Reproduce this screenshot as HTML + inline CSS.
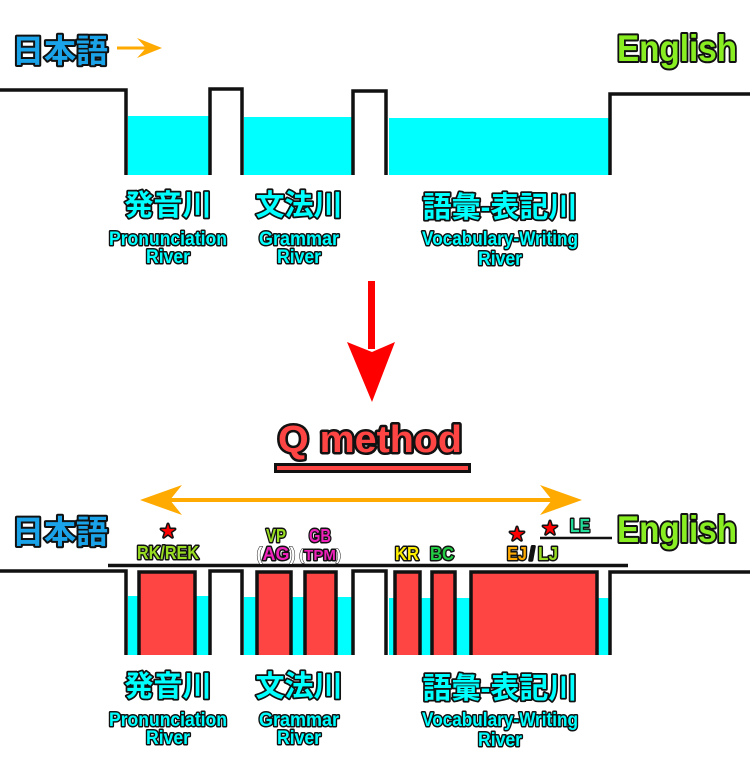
<!DOCTYPE html>
<html><head><meta charset="utf-8"><style>
html,body{margin:0;padding:0;background:#fff;width:750px;height:770px;overflow:hidden}
svg{display:block}
text{font-family:"Liberation Sans","Noto Sans CJK JP",sans-serif;font-weight:bold;paint-order:stroke;stroke:#111;stroke-linejoin:round}
</style></head><body>
<svg width="750" height="770" viewBox="0 0 750 770" xmlns="http://www.w3.org/2000/svg">
<!-- TOP -->
<rect x="128" y="116" width="81" height="59" fill="#00ffff"/>
<rect x="244" y="117" width="108" height="58" fill="#00ffff"/>
<rect x="389" y="118" width="220" height="57" fill="#00ffff"/>
<polyline points="0,90 126,90 126,175" fill="none" stroke="#111" stroke-width="3.5"/>
<polyline points="210,175 210,89 242,89 242,175" fill="none" stroke="#111" stroke-width="3.5"/>
<polyline points="353,175 353,91 386,91 386,175" fill="none" stroke="#111" stroke-width="3.5"/>
<polyline points="610,175 610,94 750,94" fill="none" stroke="#111" stroke-width="3.5"/>

<text x="60" y="62" font-size="32" fill="#1aa3e8" stroke-width="4" text-anchor="middle" font-family="Noto Sans CJK JP" font-weight="900">日本語</text>
<line x1="117" y1="48" x2="148" y2="48" stroke="#ffaa00" stroke-width="3"/>
<polygon points="137,38 162,48 137,58 146,48" fill="#ffaa00"/>
<text x="677" y="61" font-size="37" fill="#88ee22" stroke-width="4" text-anchor="middle" textLength="120" lengthAdjust="spacingAndGlyphs">English</text>

<g text-anchor="middle" fill="#00ffff">
<text x="168" y="215" font-size="29" stroke-width="3.5" font-family="Noto Sans CJK JP" font-weight="900">発音川</text>
<text x="168" y="245" font-size="19" stroke-width="3" textLength="118" lengthAdjust="spacingAndGlyphs">Pronunciation</text>
<text x="168" y="263" font-size="19" stroke-width="3" textLength="44" lengthAdjust="spacingAndGlyphs">River</text>
<text x="299" y="215" font-size="29" stroke-width="3.5" font-family="Noto Sans CJK JP" font-weight="900">文法川</text>
<text x="299" y="245" font-size="19" stroke-width="3" textLength="80" lengthAdjust="spacingAndGlyphs">Grammar</text>
<text x="299" y="263" font-size="19" stroke-width="3" textLength="44" lengthAdjust="spacingAndGlyphs">River</text>
<text x="500" y="217" font-size="29" stroke-width="3.5" font-family="Noto Sans CJK JP" font-weight="900">語彙-表記川</text>
<text x="500" y="245" font-size="19" stroke-width="3" textLength="156" lengthAdjust="spacingAndGlyphs">Vocabulary-Writing</text>
<text x="500" y="265" font-size="19" stroke-width="3" textLength="44" lengthAdjust="spacingAndGlyphs">River</text>
</g>

<!-- red arrow -->
<rect x="368" y="281" width="7" height="68" fill="#ff0000"/>
<polygon points="347,342 372,352 395,342 372,402" fill="#ff0000"/>

<text x="370" y="452" font-size="38" fill="#ff4444" stroke-width="5" text-anchor="middle" textLength="184" lengthAdjust="spacingAndGlyphs">Q method</text>
<rect x="275.5" y="464.5" width="194" height="7" fill="#ff4444" stroke="#111" stroke-width="3"/>

<!-- orange double arrow -->
<line x1="155" y1="500" x2="568" y2="500" stroke="#ffaa00" stroke-width="4"/>
<polygon points="140,500 182,485 170,500 182,515" fill="#ffaa00"/>
<polygon points="582,500 540,485 552,500 540,515" fill="#ffaa00"/>

<!-- BOTTOM -->
<rect x="128" y="596" width="81" height="59" fill="#00ffff"/>
<rect x="244" y="597" width="108" height="58" fill="#00ffff"/>
<rect x="389" y="598" width="220" height="57" fill="#00ffff"/>
<polyline points="0,571 126,571 126,655" fill="none" stroke="#111" stroke-width="3.5"/>
<polyline points="210,655 210,571 242,571 242,655" fill="none" stroke="#111" stroke-width="3.5"/>
<polyline points="353,655 353,571 386,571 386,655" fill="none" stroke="#111" stroke-width="3.5"/>
<polyline points="610,655 610,572 750,572" fill="none" stroke="#111" stroke-width="3.5"/>
<line x1="108" y1="565.5" x2="628" y2="565.5" stroke="#111" stroke-width="3.5"/>
<g fill="#ff4444" stroke="#111" stroke-width="3.5">
<polyline points="139,655 139,572 195,572 195,655"/>
<polyline points="257,655 257,572 291,572 291,655"/>
<polyline points="305,655 305,572 336,572 336,655"/>
<polyline points="395,655 395,572 420,572 420,655"/>
<polyline points="432,655 432,572 455,572 455,655"/>
<polyline points="471,655 471,572 597,572 597,655"/>
</g>

<text x="60" y="543" font-size="32" fill="#1aa3e8" stroke-width="4" text-anchor="middle" font-family="Noto Sans CJK JP" font-weight="900">日本語</text>
<text x="677" y="542" font-size="37" fill="#88ee22" stroke-width="4" text-anchor="middle" textLength="120" lengthAdjust="spacingAndGlyphs">English</text>
<line x1="540" y1="538" x2="612" y2="538" stroke="#111" stroke-width="2.5"/>

<g text-anchor="middle" font-size="18" stroke-width="3">
<text x="168" y="536" fill="#ff0000" stroke="none" font-size="15">★</text>
<text x="168" y="559" fill="#99dd22" textLength="62" lengthAdjust="spacingAndGlyphs">RK/REK</text>
<text x="276" y="542" fill="#99dd22" textLength="20" lengthAdjust="spacingAndGlyphs">VP</text>
<text x="320" y="542" fill="#ee22bb" textLength="22" lengthAdjust="spacingAndGlyphs">GB</text>
<text x="276" y="560" fill="#ee22bb"><tspan fill="#fff" stroke-width="1">(</tspan>AG<tspan fill="#fff" stroke-width="1">)</tspan></text>
<text x="320" y="560" fill="#ee22bb" font-size="15"><tspan fill="#fff" stroke-width="1">(</tspan>TPM<tspan fill="#fff" stroke-width="1">)</tspan></text>
<text x="407" y="560" fill="#ffee00" textLength="24" lengthAdjust="spacingAndGlyphs">KR</text>
<text x="442" y="560" fill="#22cc44" textLength="24" lengthAdjust="spacingAndGlyphs">BC</text>
<text x="517" y="539" fill="#ff0000" stroke="none" font-size="15">★</text>
<text x="517" y="560" fill="#ffaa00" textLength="20" lengthAdjust="spacingAndGlyphs">EJ</text>
<text x="532" y="560" fill="#111" stroke="none">/</text>
<text x="548" y="560" fill="#99dd22" textLength="20" lengthAdjust="spacingAndGlyphs">LJ</text>
<text x="550" y="533" fill="#ff0000" stroke="none" font-size="15">★</text>
<text x="580" y="532" fill="#22dd99" textLength="20" lengthAdjust="spacingAndGlyphs">LE</text>
</g>

<g text-anchor="middle" fill="#00ffff">
<text x="168" y="696" font-size="29" stroke-width="3.5" font-family="Noto Sans CJK JP" font-weight="900">発音川</text>
<text x="168" y="726" font-size="19" stroke-width="3" textLength="118" lengthAdjust="spacingAndGlyphs">Pronunciation</text>
<text x="168" y="744" font-size="19" stroke-width="3" textLength="44" lengthAdjust="spacingAndGlyphs">River</text>
<text x="299" y="696" font-size="29" stroke-width="3.5" font-family="Noto Sans CJK JP" font-weight="900">文法川</text>
<text x="299" y="726" font-size="19" stroke-width="3" textLength="80" lengthAdjust="spacingAndGlyphs">Grammar</text>
<text x="299" y="744" font-size="19" stroke-width="3" textLength="44" lengthAdjust="spacingAndGlyphs">River</text>
<text x="500" y="698" font-size="29" stroke-width="3.5" font-family="Noto Sans CJK JP" font-weight="900">語彙-表記川</text>
<text x="500" y="726" font-size="19" stroke-width="3" textLength="156" lengthAdjust="spacingAndGlyphs">Vocabulary-Writing</text>
<text x="500" y="746" font-size="19" stroke-width="3" textLength="44" lengthAdjust="spacingAndGlyphs">River</text>
</g>
</svg>
</body></html>
